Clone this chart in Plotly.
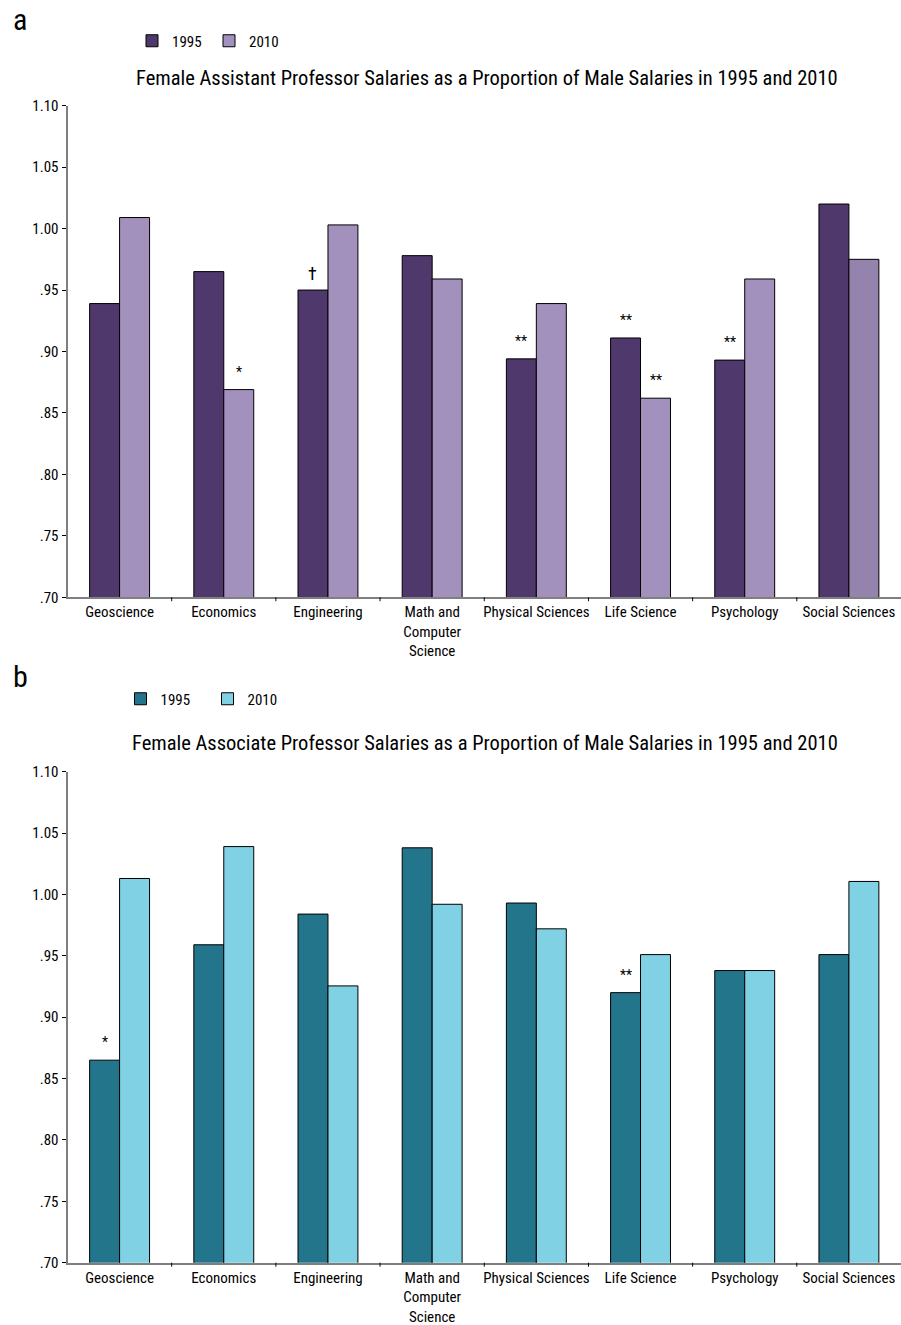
import plotly.graph_objects as go

categories = ["Geoscience", "Economics", "Engineering", "Math and<br>Computer<br>Science",
              "Physical Sciences", "Life Science", "Psychology", "Social Sciences"]

asst_1995 = [0.939, 0.965, 0.950, 0.978, 0.894, 0.911, 0.893, 1.020]
asst_2010 = [1.009, 0.869, 1.003, 0.959, 0.939, 0.862, 0.959, 0.975]
assoc_1995 = [0.865, 0.959, 0.984, 1.038, 0.993, 0.920, 0.938, 0.951]
assoc_2010 = [1.013, 1.039, 0.9255, 0.992, 0.972, 0.951, 0.938, 1.0106]

# significance markers: (category index, series, text)
asst_marks = [(1, "2010", "*"), (2, "1995", "†"), (4, "1995", "**"),
              (5, "1995", "**"), (5, "2010", "**"), (6, "1995", "**")]
assoc_marks = [(0, "1995", "*"), (5, "1995", "**")]

ytick_vals = [0.70, 0.75, 0.80, 0.85, 0.90, 0.95, 1.00, 1.05, 1.10]
ytick_text = [".70", ".75", ".80", ".85", ".90", ".95", "1.00", "1.05", "1.10"]

title_a = "Female Assistant Professor Salaries as a Proportion of Male Salaries in 1995 and 2010"
title_b = "Female Associate Professor Salaries as a Proportion of Male Salaries in 1995 and 2010"

PURPLE_D, PURPLE_L = "#4F386B", "#A391BD"
TEAL_D, TEAL_L = "#23758C", "#7FD1E3"

FONT = "Liberation Sans Narrow, Roboto Condensed, DejaVu Sans Condensed, Arial Narrow, sans-serif"
W, H = 901, 1325
BARGAP = 0.425

xs = list(range(len(categories)))
# last 2010 assistant bar appears shaded darker in the original
asst_2010_colors = [PURPLE_L] * 7 + ["#9483AD"]

fig = go.Figure()
fig.add_trace(go.Bar(x=xs, y=asst_1995, name="1995", marker=dict(color=PURPLE_D, line=dict(color="black", width=1)),
                     xaxis="x", yaxis="y", legend="legend"))
fig.add_trace(go.Bar(x=xs, y=asst_2010, name="2010", marker=dict(color=asst_2010_colors, line=dict(color="black", width=1)),
                     xaxis="x", yaxis="y", legend="legend"))
fig.add_trace(go.Bar(x=xs, y=assoc_1995, name="1995", marker=dict(color=TEAL_D, line=dict(color="black", width=1)),
                     xaxis="x2", yaxis="y2", legend="legend2"))
fig.add_trace(go.Bar(x=xs, y=assoc_2010, name="2010", marker=dict(color=TEAL_L, line=dict(color="black", width=1)),
                     xaxis="x2", yaxis="y2", legend="legend2"))

x0 = 67.5 / W
dom_a = [1 - 597.3 / H, 1 - 105.7 / H]
dom_b = [1 - 1262.7 / H, 1 - 771.7 / H]

xaxis_common = dict(
    domain=[x0, 1], range=[-0.5, len(categories) - 0.5], automargin=False,
    tickmode="array", tickvals=xs, ticktext=categories,
    showline=True, linecolor="#7f7f7f", linewidth=2,
    ticks="", showgrid=False, zeroline=False,
    tickfont=dict(family=FONT, size=15, color="black"),
)
yaxis_common = dict(
    range=[0.70, 1.10], tickmode="array", tickvals=ytick_vals, ticktext=ytick_text, automargin=False,
    showline=True, linecolor="#7f7f7f", linewidth=2,
    ticks="outside", ticklen=4, tickcolor="black", tickwidth=1,
    showgrid=False, zeroline=False,
    tickfont=dict(family=FONT, size=15, color="black"),
)

half = (1 - BARGAP) / 4
annotations = []
for idx, ser, txt in asst_marks:
    vals = asst_1995 if ser == "1995" else asst_2010
    xx = idx - half if ser == "1995" else idx + half
    annotations.append(dict(x=xx, y=vals[idx], xref="x", yref="y", text=txt, showarrow=False,
                            yanchor="bottom", yshift=4 if txt == "†" else 8,
                            font=dict(family=FONT, size=18 if txt == "†" else 14, color="black")))
for idx, ser, txt in assoc_marks:
    vals = assoc_1995 if ser == "1995" else assoc_2010
    xx = idx - half if ser == "1995" else idx + half
    annotations.append(dict(x=xx, y=vals[idx], xref="x2", yref="y2", text=txt, showarrow=False,
                            yanchor="bottom", yshift=8, font=dict(family=FONT, size=14, color="black")))

annotations += [
    dict(x=11 / W, y=1 - 19 / H, xref="paper", yref="paper", text="a", showarrow=False,
         xanchor="left", yanchor="middle", font=dict(family=FONT, size=30, color="black")),
    dict(x=11 / W, y=1 - 676 / H, xref="paper", yref="paper", text="b", showarrow=False,
         xanchor="left", yanchor="middle", font=dict(family=FONT, size=30, color="black")),
    dict(x=487 / W, y=1 - 78 / H, xref="paper", yref="paper", text=title_a, showarrow=False,
         xanchor="center", yanchor="middle", font=dict(family=FONT, size=20.5, color="black")),
    dict(x=485 / W, y=1 - 743 / H, xref="paper", yref="paper", text=title_b, showarrow=False,
         xanchor="center", yanchor="middle", font=dict(family=FONT, size=20.5, color="black")),
]

# boundary tick marks at category boundaries
shapes = []
for xr, yr in [("x", "y"), ("x2", "y2")]:
    for b in range(1, len(categories)):
        shapes.append(dict(type="line", xref=xr, yref=yr + " domain", x0=b - 0.5, x1=b - 0.5,
                           y0=0, y1=-0.008, line=dict(color="black", width=1)))

fig.update_layout(
    width=W, height=H, margin=dict(l=0, r=0, t=0, b=0, autoexpand=False),
    paper_bgcolor="white", plot_bgcolor="white",
    barmode="group", bargap=BARGAP, bargroupgap=0,
    xaxis=dict(**xaxis_common, anchor="y"),
    yaxis=dict(**yaxis_common, domain=dom_a, anchor="x"),
    xaxis2=dict(**xaxis_common, anchor="y2"),
    yaxis2=dict(**yaxis_common, domain=dom_b, anchor="x2"),
    legend=dict(orientation="h", x=132 / W, y=1 - 41 / H, xanchor="left", yanchor="middle",
                font=dict(family=FONT, size=15, color="black"), itemwidth=30, entrywidth=32,
                bgcolor="rgba(0,0,0,0)"),
    legend2=dict(orientation="h", x=120.5 / W, y=1 - 699 / H, xanchor="left", yanchor="middle",
                 font=dict(family=FONT, size=15, color="black"), itemwidth=30, entrywidth=42,
                 bgcolor="rgba(0,0,0,0)"),
    annotations=annotations, shapes=shapes,
    showlegend=True,
)

fig.write_html("out.html", config={"displayModeBar": False},
               post_script="document.body.style.margin='0';document.body.style.overflow='hidden';")
